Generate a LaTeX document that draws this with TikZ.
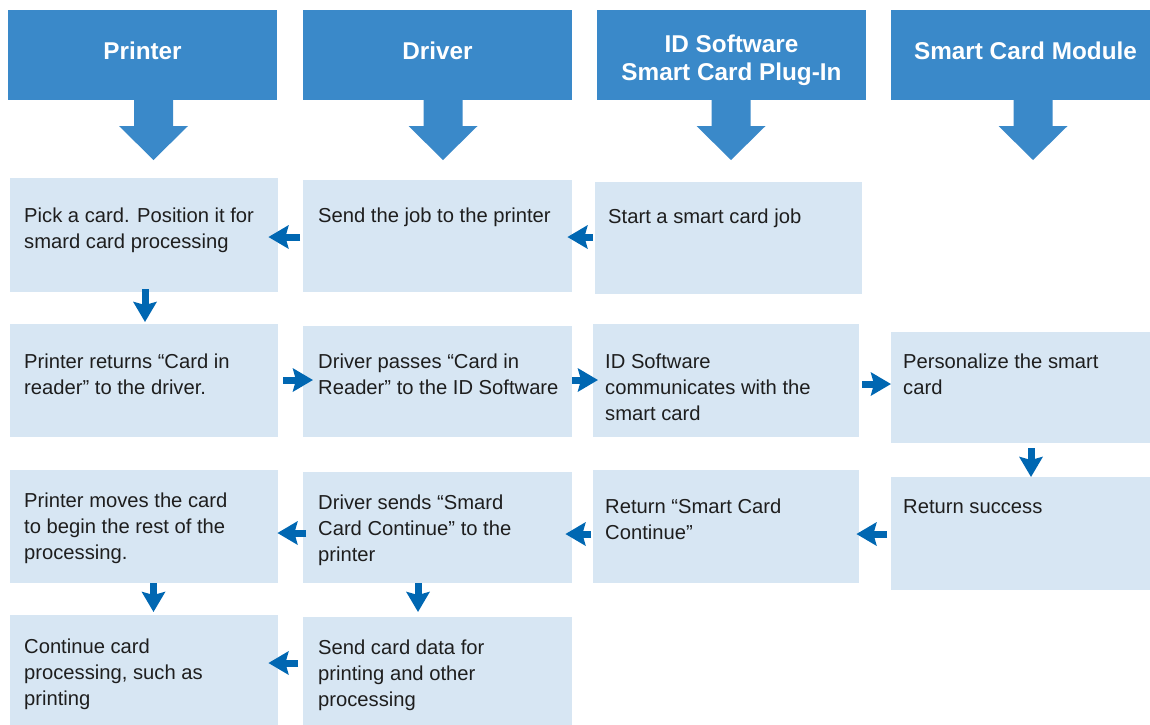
\documentclass[tikz,border=0pt]{standalone}
\usepackage{fontspec}
\setmainfont{Liberation Sans}
\usetikzlibrary{arrows.meta}
\definecolor{hdrblue}{RGB}{58,137,201}
\definecolor{boxblue}{RGB}{215,230,243}
\definecolor{arrblue}{RGB}{0,103,178}
\definecolor{txtgray}{RGB}{30,30,30}
\begin{document}
\begin{tikzpicture}[x=1pt,y=-1pt,
 hdr/.style={fill=hdrblue, draw=none, anchor=north west, minimum width=269pt, minimum height=90pt, inner sep=0pt},
 hdrtxt/.style={text=white, anchor=base, inner sep=0pt, font=\fontsize{24.3}{28}\selectfont\bfseries},
 box/.style={fill=boxblue, draw=none, anchor=north west, inner sep=0pt},
 txt/.style={text=txtgray, anchor=base west, inner sep=0pt, font=\fontsize{20.2}{26}\selectfont},
 sarr/.style={draw=arrblue, line width=7pt, -{Stealth[length=20pt,width=23pt,inset=3pt]}},
 bigarrow/.pic={\fill[hdrblue] (-19.5,-1) -- (-19.5,26) -- (-34.5,26) -- (0,60) -- (34.5,26) -- (19.5,26) -- (19.5,-1) -- cycle;}
]
\useasboundingbox (0,0) rectangle (1150,724);
\clip (0,0) rectangle (1150,724);

% headers
\node[hdr] (h1) at (8,10) {};
\node[hdr] (h2) at (303,10) {};
\node[hdr] (h3) at (597,10) {};
\node[hdr] (h4) at (891,10) {};
\node[hdrtxt] (ht1) at (142.5,59) {Printer};
\node[hdrtxt] (ht2) at (437.5,59) {Driver};
\node[hdrtxt] (ht3) at (731.5,52) {\parbox[t]{269pt}{\centering ID Software\\Smart Card Plug-In}};
\node[hdrtxt] (ht4) at (1025.5,59) {Smart Card Module};
\pic at (153.5,100) {bigarrow};
\pic at (443,100) {bigarrow};
\pic at (731,100) {bigarrow};
\pic at (1033,100) {bigarrow};

% boxes
\node[box, minimum width=268pt, minimum height=114pt] (b11) at (10,178) {};
\node[box, minimum width=269pt, minimum height=112pt] (b12) at (303,180) {};
\node[box, minimum width=267pt, minimum height=112pt] (b13) at (595,182) {};
\node[box, minimum width=268pt, minimum height=113pt] (b21) at (10,324) {};
\node[box, minimum width=269pt, minimum height=111pt] (b22) at (303,326) {};
\node[box, minimum width=266pt, minimum height=113pt] (b23) at (593,324) {};
\node[box, minimum width=270pt, minimum height=111pt] (b24) at (891,332) {};
\node[box, minimum width=268pt, minimum height=113pt] (b31) at (10,470) {};
\node[box, minimum width=269pt, minimum height=111pt] (b32) at (303,472) {};
\node[box, minimum width=266pt, minimum height=113pt] (b33) at (593,470) {};
\node[box, minimum width=270pt, minimum height=113pt] (b34) at (891,477) {};
\node[box, minimum width=268pt, minimum height=120pt] (b41) at (10,615) {};
\node[box, minimum width=269pt, minimum height=120pt] (b42) at (303,617) {};

% texts
\node[txt] (t11) at (24,222) {\parbox[t]{260pt}{Pick a card. Position it for\\smard card processing}};
\node[txt] (t12) at (318,222) {\parbox[t]{260pt}{Send the job to the printer}};
\node[txt] (t13) at (608,223) {\parbox[t]{260pt}{Start a smart card job}};
\node[txt] (t21) at (24,368) {\parbox[t]{260pt}{Printer returns “Card in\\reader” to the driver.}};
\node[txt] (t22) at (318,368) {\parbox[t]{260pt}{Driver passes “Card in\\Reader” to the ID Software}};
\node[txt] (t23) at (605,368) {\parbox[t]{260pt}{ID Software\\communicates with the\\smart card}};
\node[txt] (t24) at (903,368) {\parbox[t]{260pt}{Personalize the smart\\card}};
\node[txt] (t31) at (24,507) {\parbox[t]{260pt}{Printer moves the card\\to begin the rest of the\\processing.}};
\node[txt] (t32) at (318,509) {\parbox[t]{260pt}{Driver sends “Smard\\Card Continue” to the\\printer}};
\node[txt] (t33) at (605,513) {\parbox[t]{260pt}{Return “Smart Card\\Continue”}};
\node[txt] (t34) at (903,513) {\parbox[t]{260pt}{Return success}};
\node[txt] (t41) at (24,653) {\parbox[t]{260pt}{Continue card\\processing, such as\\printing}};
\node[txt] (t42) at (318,654) {\parbox[t]{260pt}{Send card data for\\printing and other\\processing}};

% small connectors
\draw[sarr, shorten <=3pt, shorten >=-10pt] (b12.west |- 0,237) -- (b11.east |- 0,237);
\draw[sarr, shorten <=2pt, shorten >=-5pt] (b13.west |- 0,237) -- (b12.east |- 0,237);
\draw[sarr, shorten <=5pt, shorten >=-10pt] (b21.east |- 0,380) -- (b22.west |- 0,380);
\draw[sarr, shorten <=0pt, shorten >=-5pt] (b22.east |- 0,380) -- (b23.west |- 0,380);
\draw[sarr, shorten <=3pt, shorten >=0pt] (b23.east |- 0,384) -- (b24.west |- 0,384);
\draw[sarr, shorten <=-3pt, shorten >=2pt] (b11.south -| 145,0) -- (b21.north -| 145,0);
\draw[sarr, shorten <=5pt, shorten >=0pt] (b24.south -| 1031,0) -- (b34.north -| 1031,0);
\draw[sarr, shorten <=4pt, shorten >=-3pt] (b34.west |- 0,534) -- (b33.east |- 0,534);
\draw[sarr, shorten <=2pt, shorten >=-7pt] (b33.west |- 0,534) -- (b32.east |- 0,534);
\draw[sarr, shorten <=-3pt, shorten >=-1pt] (b32.west |- 0,533) -- (b31.east |- 0,533);
\draw[sarr, shorten <=0pt, shorten >=3pt] (b31.south -| 153.5,0) -- (b41.north -| 153.5,0);
\draw[sarr, shorten <=0pt, shorten >=5pt] (b32.south -| 418,0) -- (b42.north -| 418,0);
\draw[sarr, shorten <=5pt, shorten >=-10pt] (b42.west |- 0,663) -- (b41.east |- 0,663);
\end{tikzpicture}
\end{document}
